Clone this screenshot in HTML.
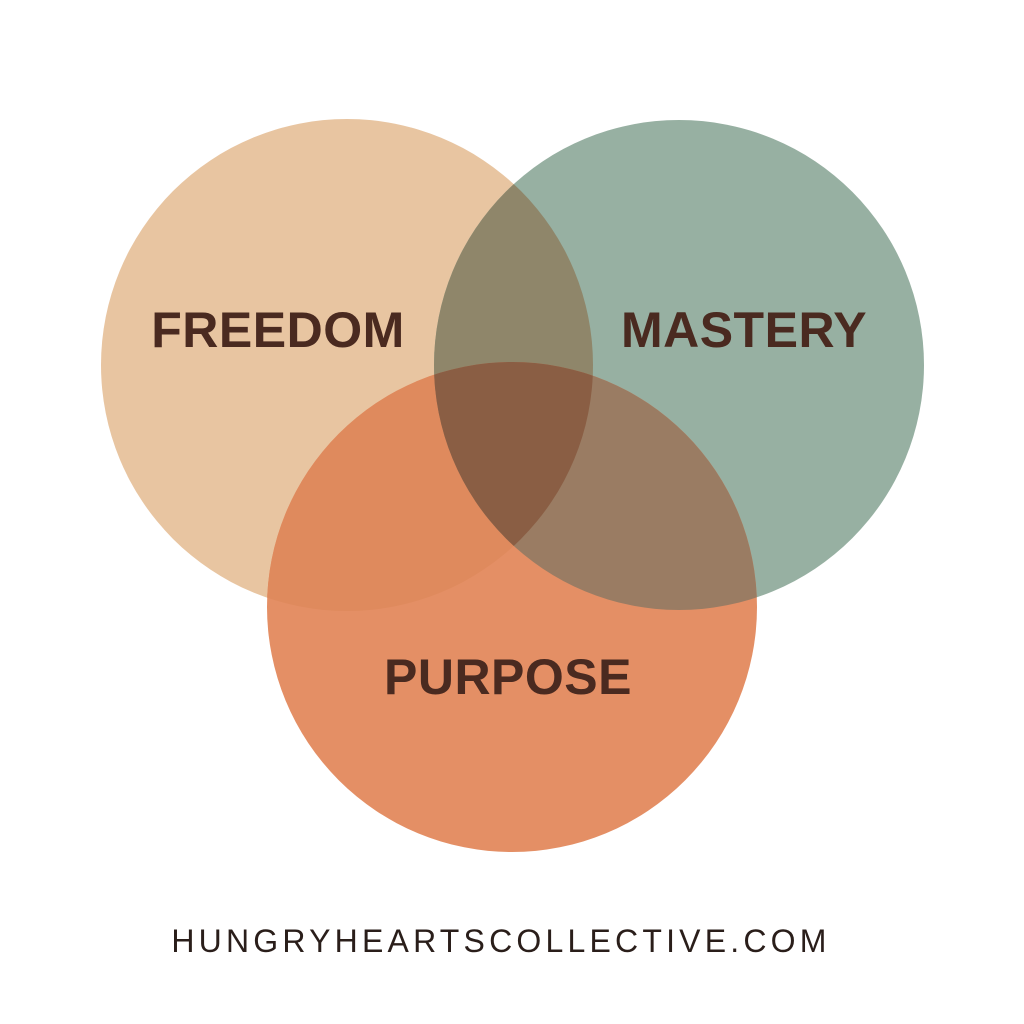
<!DOCTYPE html>
<html><head><meta charset="utf-8"><style>
html,body{margin:0;padding:0;background:#fff;width:1024px;height:1024px;overflow:hidden}
</style></head><body>
<svg width="1024" height="1024" viewBox="0 0 1024 1024" xmlns="http://www.w3.org/2000/svg">
<defs>
<clipPath id="cF"><circle cx="347" cy="365" r="246"/></clipPath>
<clipPath id="cM"><circle cx="679" cy="365" r="245"/></clipPath>
<clipPath id="cP"><circle cx="512" cy="607" r="245"/></clipPath>
</defs>
<rect width="1024" height="1024" fill="#fff"/>
<circle cx="347" cy="365" r="246" fill="#e8c5a1"/>
<circle cx="679" cy="365" r="245" fill="#97b0a2"/>
<circle cx="512" cy="607" r="245" fill="#e48f65"/>
<g clip-path="url(#cF)"><circle cx="679" cy="365" r="245" fill="#8f866a"/></g>
<g clip-path="url(#cF)"><circle cx="512" cy="607" r="245" fill="#df8a5d"/></g>
<g clip-path="url(#cM)"><circle cx="512" cy="607" r="245" fill="#9a7c63"/></g>
<g clip-path="url(#cF)"><g clip-path="url(#cM)"><circle cx="512" cy="607" r="245" fill="#8a5e44"/></g></g>
<g font-family="Liberation Sans, sans-serif" font-weight="bold" fill="#4a2a20" font-size="50" text-anchor="middle" letter-spacing="0.5">
<text x="278" y="347">FREEDOM</text>
<text x="744" y="347">MASTERY</text>
<text x="508" y="694">PURPOSE</text>
</g>
<text x="501" y="952" text-anchor="middle" font-family="Liberation Sans, sans-serif" font-size="32" fill="#2a1e1a" letter-spacing="4.2">HUNGRYHEARTSCOLLECTIVE.COM</text>
</svg>
</body></html>
